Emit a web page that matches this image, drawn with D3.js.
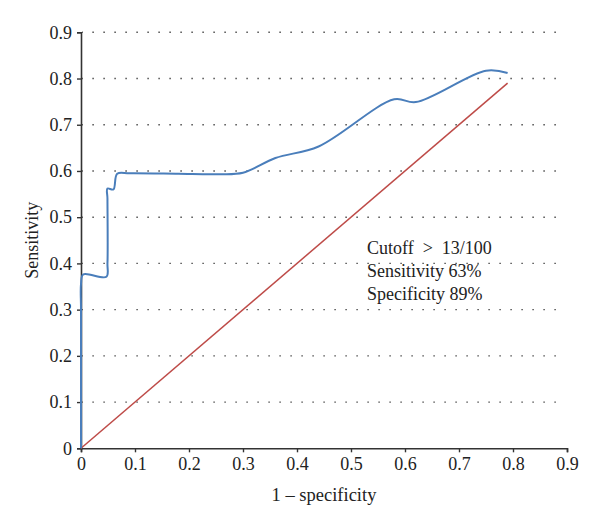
<!DOCTYPE html>
<html><head><meta charset="utf-8">
<script src="https://cdn.jsdelivr.net/npm/d3@7"></script>
<style>body{margin:0;background:#fff}svg{display:block}text{font-family:"Liberation Serif","DejaVu Serif",serif;fill:#222}</style>
</head><body>
<svg id="c" width="600" height="530"></svg>
<script>
// Data
const rocX = [0, 0, 0, 0.004, 0.047, 0.049, 0.049, 0.049, 0.06, 0.067, 0.09, 0.18, 0.25, 0.30, 0.36, 0.44, 0.58, 0.62, 0.75, 0.79];
const rocY = [0, 0.30, 0.355, 0.376, 0.371, 0.40, 0.54, 0.562, 0.56, 0.594, 0.595, 0.594, 0.593, 0.596, 0.628, 0.653, 0.755, 0.749, 0.817, 0.812];
const refX = [0, 0.79];
const refY = [0, 0.79];
const xTicks = [0, 0.1, 0.2, 0.3, 0.4, 0.5, 0.6, 0.7, 0.8, 0.9];
const yTicks = [0, 0.1, 0.2, 0.3, 0.4, 0.5, 0.6, 0.7, 0.8, 0.9];
const annotation = ["Cutoff\u2002>\u200213/100", "Sensitivity 63%", "Specificity 89%"];
const xTitle = "1 – specificity";
const yTitle = "Sensitivity";

const svg = d3.select("#c");
const L = 81, R = 567, T = 32.3, B = 448.3;
const x = d3.scaleLinear().domain([0, 0.9]).range([L, R]);
const y = d3.scaleLinear().domain([0, 0.9]).range([B, T]);
const FS = "18px";

// gridlines
svg.append("g").selectAll("line").data(yTicks.filter(d => d > 0)).join("line")
  .attr("x1", L + 1).attr("x2", R - 2)
  .attr("y1", d => y(d)).attr("y2", d => y(d))
  .attr("stroke", "#444").attr("stroke-width", 1.4)
  .attr("stroke-dasharray", "1.4,9.6").attr("stroke-dashoffset", -10.4);

// axes
const fmt = d => d === 0 ? "0" : d3.format(".1f")(d);
const xa = svg.append("g").attr("transform", `translate(0,${B})`)
  .call(d3.axisBottom(x).tickValues(xTicks).tickFormat(fmt).tickSize(4).tickPadding(5));
const ya = svg.append("g").attr("transform", `translate(${L},0)`)
  .call(d3.axisLeft(y).tickValues(yTicks).tickFormat(fmt).tickSize(4).tickPadding(5));
[xa, ya].forEach(a => {
  a.attr("font-size", null).attr("font-family", null);
  a.select(".domain").attr("stroke", "#333").attr("stroke-width", 1.6);
  a.selectAll(".tick line").attr("stroke", "#333").attr("stroke-width", 1.4);
  a.selectAll("text").style("font-size", FS).attr("fill", "#222")
    .style("font-family", '"Liberation Serif", serif');
});

// reference line
const line = d3.line().x(d => x(d[0])).y(d => y(d[1]));
svg.append("path").datum(refX.map((v, i) => [v, refY[i]]))
  .attr("d", line).attr("fill", "none").attr("stroke", "#be4b48").attr("stroke-width", 1.5);

// ROC curve
const smooth = d3.line().x(d => x(d[0])).y(d => y(d[1])).curve(d3.curveCatmullRom.alpha(0.5));
svg.append("path").datum(rocX.map((v, i) => [v, rocY[i]]))
  .attr("d", smooth).attr("fill", "none").attr("stroke", "#4a7ebb").attr("stroke-width", 2);

// titles
svg.append("text").attr("x", (L + R) / 2).attr("y", 501).attr("text-anchor", "middle")
  .style("font-size", "18.5px").text(xTitle);
svg.append("text").attr("transform", `translate(38,${(T + B) / 2}) rotate(-90)`)
  .attr("text-anchor", "middle").style("font-size", FS).text(yTitle);

// annotation
svg.append("g").selectAll("text").data(annotation).join("text")
  .attr("x", 367).attr("y", (d, i) => 254 + i * 23)
  .style("font-size", FS).text(d => d);
</script>
</body></html>
